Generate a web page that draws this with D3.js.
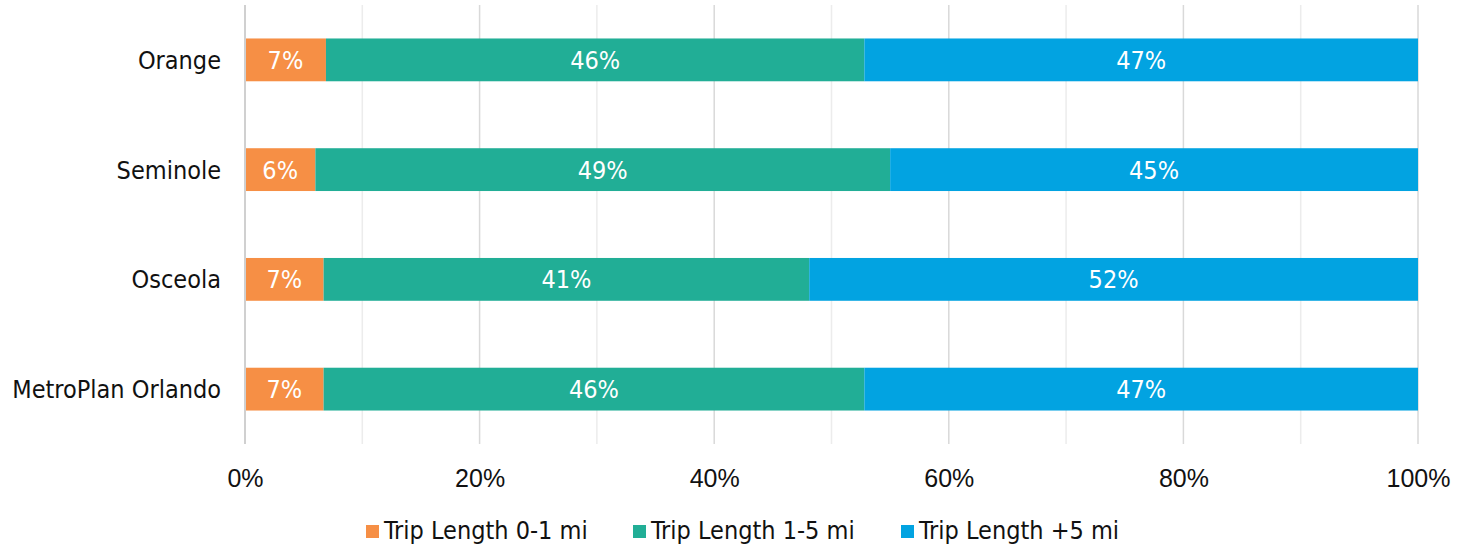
<!DOCTYPE html>
<html>
<head>
<meta charset="utf-8">
<script src="https://cdn.jsdelivr.net/npm/d3@7"></script>
<style>
  html, body { margin: 0; padding: 0; background: #fff; }
  svg { display: block; font-family: "DejaVu Sans Condensed", "DejaVu Sans", sans-serif; }
</style>
</head>
<body>
<svg id="chart" width="1470" height="550"></svg>
<script>
// Share of trips by trip length, per county (percent of all trips)
const regions = ["Orange", "Seminole", "Osceola", "MetroPlan Orlando"];
const seriesNames = ["Trip Length 0-1 mi", "Trip Length 1-5 mi", "Trip Length +5 mi"];
const short = [6.9, 6.0, 6.7, 6.7];
const medium = [45.9, 49.0, 41.4, 46.1];
const long = [47.2, 45.0, 51.9, 47.2];
const colors = ["#F68F45", "#21AE96", "#02A3E1"];
const xTicks = [0, 20, 40, 60, 80, 100];

const svg = d3.select("#chart");
const margin = { left: 245, right: 52, top: 5, bottom: 106 };
const W = 1470, H = 550;
const FS = 25;

const x = d3.scaleLinear().domain([0, 100]).range([margin.left, W - margin.right]);
const y = d3.scaleBand().domain(regions).range([margin.top, H - margin.bottom]).paddingInner(0.61).paddingOuter(0.305);

// gridlines: minor every 10%, major every 20%
const grid = svg.append("g");
grid.selectAll("line.minor").data(d3.range(10, 100, 20)).join("line")
  .attr("x1", d => x(d)).attr("x2", d => x(d))
  .attr("y1", margin.top).attr("y2", H - margin.bottom)
  .attr("stroke", "#ececec").attr("stroke-width", 1.5);
grid.selectAll("line.major").data(xTicks.slice(1)).join("line")
  .attr("x1", d => x(d)).attr("x2", d => x(d))
  .attr("y1", margin.top).attr("y2", H - margin.bottom)
  .attr("stroke", "#d9d9d9").attr("stroke-width", 1.5);

// stacked bars
const rows = regions.map((r, i) => ({ region: r, vals: [short[i], medium[i], long[i]] }));
const stackData = rows.map(r => {
  let acc = 0;
  return r.vals.map((v, k) => { const s = { region: r.region, k, x0: acc, x1: acc + v, v }; acc += v; return s; });
}).flat();

svg.append("g").selectAll("rect").data(stackData).join("rect")
  .attr("x", d => x(d.x0))
  .attr("width", d => x(d.x1) - x(d.x0))
  .attr("y", d => y(d.region))
  .attr("height", y.bandwidth())
  .attr("fill", d => colors[d.k]);

svg.append("g").selectAll("text").data(stackData).join("text")
  .attr("x", d => (x(d.x0) + x(d.x1)) / 2)
  .attr("y", d => y(d.region) + y.bandwidth() / 2 + 9)
  .attr("text-anchor", "middle")
  .attr("fill", "#fff")
  .attr("font-size", FS)
  .text(d => Math.round(d.v) + "%");

// zero baseline
svg.append("line")
  .attr("x1", x(0)).attr("x2", x(0))
  .attr("y1", margin.top).attr("y2", H - margin.bottom)
  .attr("stroke", "#d0d0d0").attr("stroke-width", 2);

// category labels
svg.append("g").selectAll("text").data(regions).join("text")
  .attr("x", x(0) - 24)
  .attr("y", d => y(d) + y.bandwidth() / 2 + 9)
  .attr("text-anchor", "end")
  .attr("fill", "#111")
  .attr("font-size", FS)
  .text(d => d);

// x axis tick labels
const xAxis = d3.axisBottom(x).tickValues(xTicks).tickSize(0).tickPadding(0).tickFormat(d => d + "%");
const ax = svg.append("g").attr("transform", "translate(0, 487)").call(xAxis);
ax.select(".domain").remove();
ax.selectAll("text").attr("dy", null).attr("y", 0)
  .attr("font-size", FS).attr("fill", "#111").attr("font-family", null);

// legend
const legendX = [366, 633, 901];
const lg = svg.append("g").selectAll("g").data(seriesNames).join("g")
  .attr("transform", (d, i) => `translate(${legendX[i]}, 539)`);
lg.append("rect").attr("x", 0).attr("y", -14).attr("width", 13).attr("height", 13).attr("fill", (d, i) => colors[i]);
lg.append("text").attr("x", 18).attr("font-size", FS).attr("fill", "#111").text(d => d);
</script>
</body>
</html>
